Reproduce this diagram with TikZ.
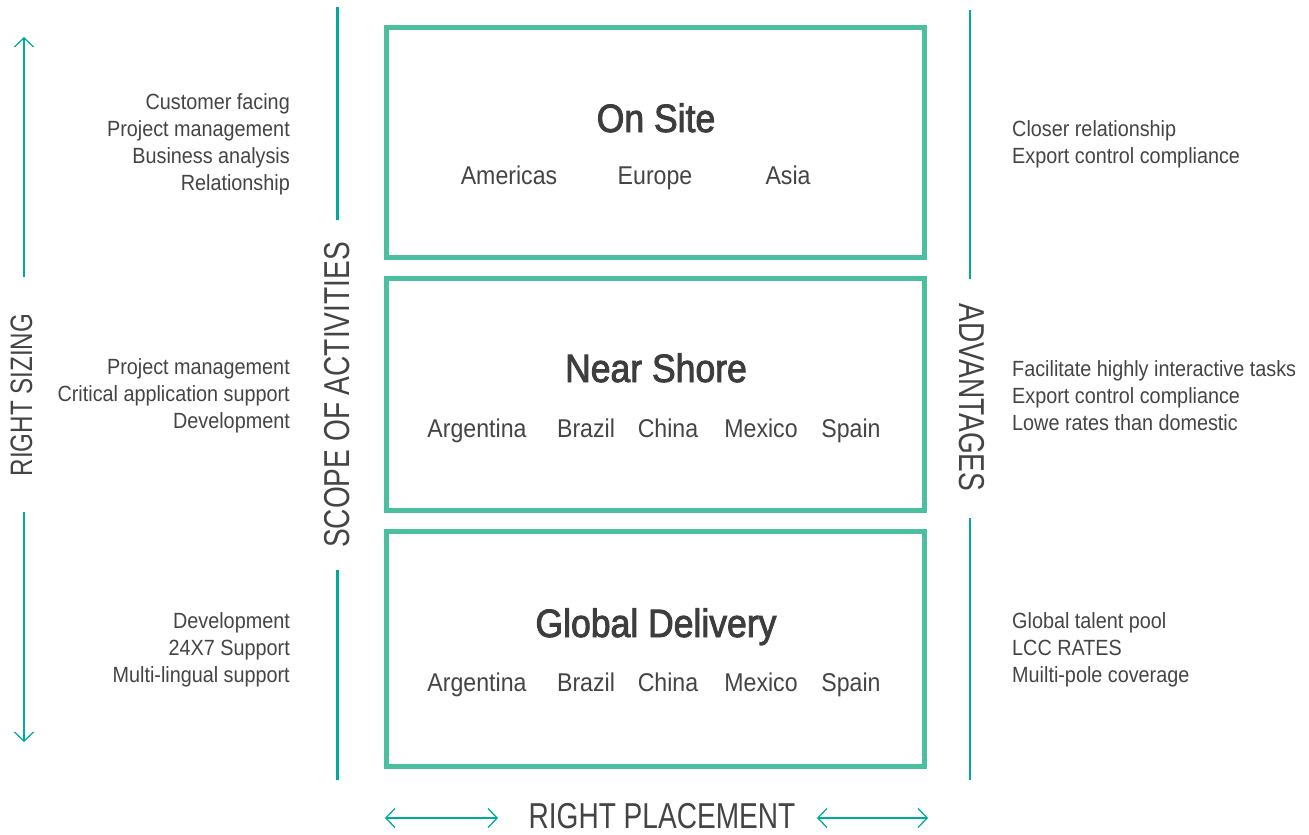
\documentclass[tikz,border=0pt]{standalone}
\usepackage{fontspec}
\setmainfont{Liberation Sans}[FakeStretch=0.9]
\newfontfamily\capsfont{Liberation Sans}[FakeStretch=0.78]
\newfontfamily\titlefont{Liberation Sans}[FakeStretch=0.9, FakeBold=2.2]
\usetikzlibrary{positioning,arrows.meta}

\definecolor{boxgreen}{HTML}{4BBF9F}
\definecolor{lineteal}{HTML}{00A99D}
\definecolor{textgray}{HTML}{444444}

\begin{document}
\begin{tikzpicture}[
    x=1pt, y=-1pt,
    region/.style={rectangle, draw=boxgreen, line width=5pt, minimum width=538pt, inner sep=0pt},
    title/.style={font=\titlefont\fontsize{39.5}{42}\selectfont, text=textgray!90!black, inner sep=0pt},
    country/.style={font=\fontsize{25.7}{28}\selectfont, text=textgray, inner sep=0pt},
    side/.style={font=\fontsize{22}{27}\selectfont, text=textgray, inner sep=0pt},
    axis/.style={font=\capsfont\fontsize{36}{40}\selectfont, text=textgray, inner sep=0pt},
    rule/.style={draw=lineteal, line width=2.2pt},
    arrow/.style={rule, {Straight Barb[length=9pt, width=19pt, line width=1.3pt]}-{Straight Barb[length=9pt, width=19pt, line width=1.3pt]}},
    uparrow/.style={rule, -{Straight Barb[length=9pt, width=19pt, line width=1.3pt]}}
]
\useasboundingbox (0,0) rectangle (1309,835);

% Main blocks
\node[region, minimum height=230pt] (onsite) at (655.5,142.5) {};
\node[region, minimum height=232pt] (nearshore) at (655.5,394.5) {};
\node[region, minimum height=235pt] (global) at (655.5,649) {};

% Titles
\node[title, anchor=base] (onsite title) at (656,132) {On Site};
\node[title, anchor=base] (nearshore title) at (656,382) {Near Shore};
\node[title, anchor=base] (global title) at (656,637) {Global Delivery};

% Locations
\node[country, anchor=base] (americas) at (509,184) {Americas};
\node[country, anchor=base] (europe) at (655,184) {Europe};
\node[country, anchor=base] (asia) at (788,184) {Asia};
\foreach \row/\y in {near/437, glob/691} {
  \node[country, anchor=base] (\row argentina) at (477,\y) {Argentina};
  \node[country, anchor=base] (\row brazil) at (586,\y) {Brazil};
  \node[country, anchor=base] (\row china) at (668,\y) {China};
  \node[country, anchor=base] (\row mexico) at (761,\y) {Mexico};
  \node[country, anchor=base] (\row spain) at (851,\y) {Spain};
}

% Activities
\node[side, anchor=east, align=right] (act onsite) at (290,144) {Customer facing\\Project management\\Business analysis\\Relationship};
\node[side, anchor=east, align=right] (act nearshore) at (290,396) {Project management\\Critical application support\\Development};
\node[side, anchor=east, align=right] (act global) at (290,650) {Development\\24X7 Support\\Multi-lingual support};

% Advantages
\node[side, anchor=west, align=left] (adv onsite) at (1012,144) {Closer relationship\\Export control compliance};
\node[side, anchor=west, align=left] (adv nearshore) at (1012,396) {Facilitate highly interactive tasks\\Export control compliance\\Lowe rates than domestic};
\node[side, anchor=west, align=left] (adv global) at (1012,650) {Global talent pool\\LCC RATES\\Muilti-pole coverage};

% Axis labels
\node[axis, rotate=90, font=\capsfont\fontsize{31}{34}\selectfont] (sizing) at (21.5,395) {RIGHT SIZING};
\node[axis, rotate=90] (scope) at (337.5,395) {SCOPE OF ACTIVITIES};
\node[axis, rotate=-90] (advantages) at (971.5,397.5) {ADVANTAGES};
\node[axis] (placement) at (662,816.5) {RIGHT PLACEMENT};

% Rules
\coordinate (scope top) at (337.5,7);
\coordinate (scope up) at (337.5,220);
\coordinate (scope down) at (337.5,570);
\coordinate (scope bottom) at (337.5,780);
\coordinate (adv top) at (970,10);
\coordinate (adv up) at (970,279);
\coordinate (adv down) at (970,518);
\coordinate (adv bottom) at (970,780);
\draw[rule] (scope top) -- (scope up);
\draw[rule] (scope down) -- (scope bottom);
\draw[rule] (adv top) -- (adv up);
\draw[rule] (adv down) -- (adv bottom);

% Sizing arrow
\coordinate (size tip) at (24,37);
\coordinate (size up) at (24,277);
\coordinate (size down) at (24,512);
\coordinate (size end) at (24,742);
\draw[uparrow] (size up) -- (size tip);
\draw[uparrow] (size down) -- (size end);

% Placement arrows
\coordinate (place a) at (385,818);
\coordinate (place b) at (498,818);
\coordinate (place c) at (817,818);
\coordinate (place d) at (928,818);
\draw[arrow] (place a) -- (place b);
\draw[arrow] (place c) -- (place d);

\end{tikzpicture}
\end{document}
